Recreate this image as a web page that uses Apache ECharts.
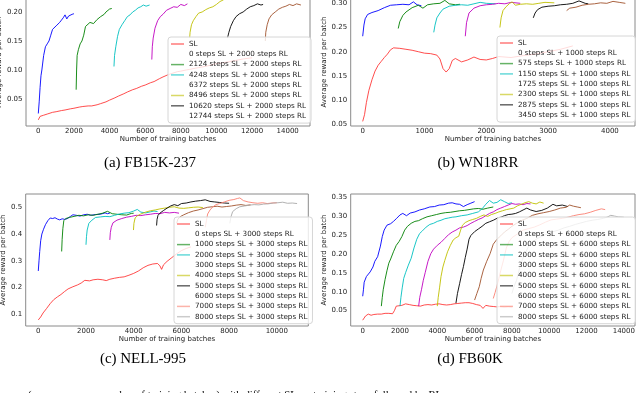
<!DOCTYPE html>
<html>
<head>
<meta charset="utf-8">
<script src="https://cdn.jsdelivr.net/npm/echarts@6/dist/echarts.min.js"></script>
<style>
html, body { margin: 0; padding: 0; background: #fff; }
#chart { width: 640px; height: 393px; }
</style>
</head>
<body>
<div id="chart"></div>
<script>
// colours used for the RL runs, in order of pretraining steps
const rlColors = ['#0000ff', '#008000', '#00bfbf', '#bf00bf', '#bfbf00', '#000000', '#a0522d', '#fa8072', '#a9a9a9']
const slColor = '#ff2020'

// ---------- (a) FB15K-237 ----------
const aSteps = [0, 2124, 4248, 6372, 8496, 10620, 12744]
const aSL = [[0,0.014],[100,0.020],[300,0.022],[500,0.024],[800,0.027],[1000,0.028],[1300,0.030],[1500,0.031],[1800,0.033],[2000,0.034],[2300,0.036],[2500,0.037],[2800,0.038],[3000,0.038],[3300,0.040],[3500,0.042],[3800,0.045],[4000,0.048],[4300,0.052],[4500,0.055],[4800,0.059],[5000,0.062],[5300,0.066],[5500,0.068],[5800,0.072],[6000,0.074],[6300,0.078],[6500,0.080],[6800,0.085],[7000,0.088],[7300,0.092],[7500,0.094],[7800,0.097],[8000,0.098],[8300,0.100],[8500,0.101],[8800,0.103],[9000,0.104],[9500,0.107],[10000,0.111],[10500,0.113],[11000,0.116],[11500,0.119],[12000,0.121]]
const aRL0 = [[0,0.025],[50,0.045],[100,0.070],[150,0.090],[200,0.100],[300,0.125],[400,0.140],[500,0.145],[600,0.150],[700,0.160],[800,0.170],[900,0.172],[1000,0.176],[1100,0.178],[1200,0.182],[1300,0.186],[1400,0.190],[1500,0.195],[1600,0.188],[1700,0.193],[1800,0.190],[1900,0.196],[2000,0.197]]
const aRL2124 = [[2124,0.066],[2150,0.100],[2180,0.125],[2250,0.135],[2350,0.145],[2450,0.150],[2550,0.160],[2650,0.175],[2750,0.178],[2900,0.182],[3100,0.180],[3300,0.187],[3500,0.192],[3700,0.196],[3800,0.200],[3900,0.199],[4000,0.205],[4124,0.206]]
const aRL4248 = [[4248,0.106],[4280,0.125],[4350,0.140],[4450,0.158],[4550,0.170],[4700,0.178],[4850,0.185],[5000,0.192],[5150,0.195],[5300,0.200],[5450,0.203],[5600,0.207],[5750,0.209],[5900,0.212],[6050,0.210],[6248,0.212]]
const aRL6372 = [[6372,0.118],[6400,0.140],[6450,0.155],[6550,0.172],[6700,0.185],[6850,0.192],[7000,0.196],[7200,0.203],[7400,0.206],[7600,0.209],[7800,0.208],[8000,0.213],[8200,0.211],[8372,0.214]]
const aRL8496 = [[8496,0.155],[8520,0.165],[8600,0.178],[8700,0.185],[8850,0.192],[9000,0.198],[9200,0.200],[9400,0.204],[9600,0.207],[9800,0.209],[10000,0.213],[10200,0.218],[10400,0.221]]
const aRL10620 = [[10620,0.155],[10700,0.165],[10800,0.175],[10950,0.185],[11100,0.192],[11300,0.197],[11500,0.200],[11700,0.205],[11900,0.209],[12100,0.211],[12300,0.214],[12500,0.212],[12620,0.213]]
const aRL12744 = [[12744,0.150],[12770,0.165],[12850,0.178],[12950,0.188],[13100,0.195],[13300,0.200],[13500,0.205],[13700,0.208],[13900,0.210],[14100,0.213],[14300,0.211],[14500,0.214],[14744,0.212]]
const aTicksX = [0, 2000, 4000, 6000, 8000, 10000, 12000, 14000]
const aTicksY = [0.05, 0.10, 0.15, 0.20]

// ---------- (b) WN18RR ----------
const bSteps = [0, 575, 1150, 1725, 2300, 2875, 3450]
const bSL = [[0,0.056],[30,0.070],[60,0.095],[100,0.120],[150,0.142],[200,0.160],[250,0.172],[300,0.180],[350,0.188],[400,0.195],[450,0.204],[500,0.208],[600,0.207],[700,0.205],[800,0.203],[900,0.200],[1000,0.197],[1100,0.196],[1200,0.193],[1250,0.185],[1300,0.165],[1350,0.158],[1400,0.165],[1450,0.182],[1500,0.186],[1600,0.179],[1700,0.183],[1800,0.189],[1900,0.184],[2000,0.183],[2100,0.186],[2200,0.190],[2400,0.188],[2600,0.192],[2800,0.195],[3000,0.200],[3200,0.205],[3400,0.212]]
const bRL0 = [[0,0.232],[20,0.255],[40,0.268],[80,0.277],[150,0.281],[250,0.285],[350,0.291],[450,0.296],[550,0.297],[650,0.298],[750,0.297],[820,0.303],[880,0.297],[950,0.295]]
const bRL575 = [[575,0.248],[600,0.262],[650,0.275],[700,0.282],[800,0.291],[900,0.296],[975,0.290],[1050,0.297],[1150,0.299],[1250,0.300],[1330,0.306],[1400,0.299],[1500,0.297],[1575,0.298]]
const bRL1150 = [[1150,0.240],[1170,0.255],[1200,0.270],[1250,0.280],[1300,0.288],[1400,0.294],[1500,0.296],[1600,0.297],[1700,0.296],[1800,0.299],[1900,0.302],[2000,0.300],[2150,0.299]]
const bRL1725 = [[1660,0.232],[1680,0.260],[1720,0.280],[1800,0.290],[1900,0.295],[2000,0.297],[2100,0.298],[2200,0.300],[2300,0.299],[2400,0.302],[2550,0.300]]
const bRL2300 = [[2220,0.250],[2240,0.270],[2270,0.285],[2320,0.293],[2380,0.300],[2420,0.303],[2470,0.296],[2550,0.298],[2650,0.299],[2750,0.298],[2850,0.300],[2950,0.302],[3100,0.301]]
const bRL2875 = [[2760,0.270],[2790,0.280],[2830,0.287],[2900,0.292],[3000,0.294],[3100,0.295],[3200,0.297],[3300,0.298],[3400,0.300],[3500,0.305],[3600,0.300],[3650,0.299]]
const bRL3450 = [[3300,0.285],[3350,0.290],[3450,0.292],[3550,0.296],[3650,0.298],[3750,0.299],[3850,0.301],[3950,0.300],[4050,0.304],[4150,0.302],[4250,0.300]]
const bTicksX = [0, 1000, 2000, 3000, 4000]
const bTicksY = [0.05, 0.10, 0.15, 0.20, 0.25, 0.30]

// ---------- (c) NELL-995 ----------
const cSteps = [0, 1000, 2000, 3000, 4000, 5000, 6000, 7000, 8000]
const cSL = [[0,0.079],[100,0.090],[200,0.105],[350,0.122],[500,0.140],[650,0.155],[800,0.165],[950,0.174],[1100,0.185],[1250,0.195],[1450,0.203],[1650,0.210],[1800,0.217],[1950,0.227],[2150,0.225],[2300,0.229],[2500,0.231],[2700,0.229],[2850,0.226],[3000,0.231],[3200,0.235],[3400,0.238],[3600,0.240],[3800,0.246],[4000,0.253],[4200,0.262],[4400,0.274],[4600,0.283],[4800,0.288],[5000,0.290],[5100,0.281],[5170,0.268],[5250,0.285],[5400,0.298],[5600,0.312],[5800,0.326],[6000,0.338],[6200,0.346],[6400,0.352]]
const cRL0 = [[0,0.262],[30,0.300],[60,0.335],[100,0.375],[150,0.400],[220,0.418],[300,0.435],[400,0.450],[500,0.460],[600,0.458],[700,0.461],[800,0.456],[900,0.453],[1000,0.457],[1100,0.455],[1200,0.457],[1350,0.466],[1450,0.472],[1600,0.470],[1750,0.467],[1900,0.472],[2050,0.474],[2200,0.470],[2400,0.473],[2600,0.474],[2800,0.479],[2900,0.476],[3000,0.478]]
const cRL1000 = [[980,0.335],[1000,0.380],[1030,0.420],[1070,0.450],[1150,0.458],[1300,0.462],[1500,0.466],[1700,0.470],[1900,0.468],[2100,0.472],[2300,0.470],[2500,0.474],[2700,0.478],[2900,0.485],[3100,0.476],[3300,0.474],[3500,0.472],[3700,0.471],[3900,0.477],[4000,0.478]]
const cRL2000 = [[2000,0.360],[2020,0.390],[2050,0.415],[2120,0.440],[2250,0.452],[2400,0.462],[2600,0.464],[2800,0.466],[3000,0.465],[3200,0.470],[3400,0.475],[3600,0.478],[3800,0.480],[4000,0.486],[4150,0.492],[4300,0.482],[4500,0.479],[4700,0.483],[4850,0.486],[5000,0.484]]
const cRL3000 = [[3000,0.378],[3020,0.405],[3060,0.425],[3130,0.442],[3300,0.452],[3500,0.458],[3700,0.463],[3900,0.466],[4100,0.470],[4300,0.469],[4500,0.472],[4700,0.474],[4900,0.477],[5100,0.476],[5300,0.481],[5500,0.479],[5700,0.481],[5900,0.478]]
const cRL4000 = [[3990,0.415],[4010,0.440],[4060,0.460],[4150,0.468],[4300,0.475],[4500,0.482],[4700,0.487],[4900,0.490],[5100,0.494],[5300,0.497],[5500,0.500],[5700,0.502],[5900,0.497],[6100,0.496],[6300,0.498],[6500,0.500],[6700,0.501],[6900,0.499]]
const cRL5000 = [[4960,0.432],[4980,0.455],[5020,0.470],[5100,0.478],[5250,0.488],[5400,0.497],[5550,0.505],[5700,0.510],[5850,0.506],[6000,0.514],[6200,0.516],[6400,0.520],[6600,0.523],[6800,0.525],[7000,0.528],[7200,0.522],[7400,0.520],[7600,0.518],[7800,0.516],[8000,0.515]]
const cRL6000 = [[5800,0.440],[5850,0.455],[5950,0.465],[6100,0.472],[6300,0.480],[6500,0.486],[6700,0.490],[6900,0.495],[7100,0.500],[7300,0.502],[7500,0.504],[7700,0.501],[7900,0.503],[8100,0.505],[8300,0.508],[8500,0.510],[8700,0.507],[8900,0.509]]
const cRL7000 = [[7000,0.425],[7050,0.450],[7100,0.475],[7200,0.490],[7300,0.500],[7450,0.510],[7600,0.514],[7800,0.520],[8000,0.526],[8200,0.529],[8350,0.533],[8450,0.535],[8600,0.525],[8800,0.520],[9000,0.517],[9200,0.515],[9400,0.517],[9600,0.514],[9800,0.516],[10000,0.517]]
const cRL8000 = [[8030,0.440],[8080,0.465],[8150,0.484],[8300,0.495],[8450,0.502],[8650,0.505],[8850,0.508],[9050,0.510],[9250,0.509],[9450,0.512],[9650,0.513],[9850,0.516],[10050,0.517],[10250,0.519],[10450,0.515],[10650,0.516],[10850,0.514]]
const cTicksX = [0, 2000, 4000, 6000, 8000, 10000]
const cTicksY = [0.1, 0.2, 0.3, 0.4, 0.5]

// ---------- (d) FB60K ----------
const dSteps = [0, 1000, 2000, 3000, 4000, 5000, 6000, 7000, 8000]
const dSL = [[0,0.025],[60,0.030],[150,0.036],[300,0.041],[450,0.038],[600,0.040],[800,0.041],[1000,0.041],[1200,0.043],[1400,0.043],[1600,0.042],[1700,0.050],[1800,0.062],[1900,0.066],[2100,0.064],[2300,0.068],[2500,0.066],[2700,0.064],[2900,0.063],[3100,0.062],[3300,0.065],[3500,0.066],[3700,0.065],[3900,0.067],[4100,0.068],[4300,0.066],[4500,0.065],[4700,0.066],[4900,0.068],[5100,0.069],[5300,0.070],[5500,0.071],[5700,0.071],[5900,0.069],[6100,0.066],[6300,0.064],[6450,0.056],[6600,0.064],[6800,0.062],[7000,0.061],[7200,0.060],[7400,0.061],[7600,0.060],[7800,0.061],[8000,0.060]]
const dRL0 = [[0,0.088],[40,0.105],[80,0.125],[200,0.140],[400,0.152],[550,0.165],[650,0.180],[800,0.192],[950,0.220],[1050,0.245],[1150,0.262],[1300,0.275],[1500,0.279],[1650,0.285],[1800,0.292],[2000,0.302],[2150,0.306],[2350,0.300],[2550,0.307],[2800,0.310],[3050,0.315],[3300,0.318],[3600,0.323],[3850,0.324],[4100,0.328],[4350,0.329],[4600,0.333],[4800,0.334],[5000,0.331],[5200,0.330],[5400,0.324],[5600,0.329],[5800,0.333],[6000,0.337]]
const dRL1000 = [[1000,0.062],[1050,0.085],[1100,0.105],[1200,0.132],[1300,0.155],[1400,0.175],[1500,0.186],[1650,0.205],[1800,0.222],[1950,0.232],[2100,0.245],[2250,0.262],[2400,0.272],[2600,0.280],[2800,0.285],[3000,0.287],[3200,0.292],[3450,0.297],[3700,0.300],[3950,0.303],[4200,0.306],[4450,0.308],[4700,0.309],[4950,0.311],[5200,0.313],[5450,0.314],[5700,0.316],[5950,0.318],[6200,0.319],[6450,0.317],[6700,0.320],[7000,0.323]]
const dRL2000 = [[2000,0.062],[2050,0.085],[2120,0.110],[2200,0.135],[2300,0.150],[2450,0.170],[2600,0.188],[2750,0.215],[2900,0.238],[3050,0.253],[3200,0.260],[3400,0.270],[3600,0.277],[3800,0.280],[4000,0.285],[4200,0.288],[4400,0.292],[4600,0.294],[4800,0.296],[5000,0.297],[5300,0.300],[5600,0.302],[5900,0.306],[6200,0.310],[6400,0.318],[6600,0.330],[6800,0.340],[7000,0.333],[7200,0.335],[7400,0.342],[7600,0.337],[7800,0.332],[8000,0.334]]
const dRL3000 = [[3000,0.062],[3060,0.085],[3150,0.105],[3250,0.130],[3350,0.150],[3500,0.180],[3650,0.200],[3800,0.212],[4000,0.222],[4200,0.230],[4400,0.240],[4600,0.250],[4800,0.257],[5000,0.262],[5200,0.268],[5400,0.270],[5600,0.274],[5800,0.280],[6000,0.285],[6200,0.290],[6400,0.294],[6600,0.300],[6800,0.306],[7000,0.310],[7200,0.316],[7400,0.320],[7600,0.324],[7800,0.328],[8000,0.332],[8200,0.330],[8400,0.331],[8600,0.329],[8800,0.332],[9000,0.331]]
const dRL4000 = [[4000,0.062],[4050,0.085],[4120,0.110],[4200,0.140],[4300,0.165],[4400,0.182],[4550,0.205],[4700,0.222],[4850,0.236],[5000,0.242],[5150,0.246],[5250,0.262],[5350,0.275],[5500,0.282],[5700,0.287],[5900,0.290],[6100,0.293],[6300,0.298],[6500,0.302],[6700,0.298],[6900,0.303],[7100,0.306],[7300,0.310],[7500,0.313],[7700,0.316],[7900,0.318],[8100,0.320],[8300,0.326],[8500,0.330],[8700,0.334],[8900,0.337],[9100,0.333],[9300,0.331],[9500,0.336],[9700,0.333]]
const dRL5000 = [[5000,0.070],[5080,0.095],[5200,0.122],[5300,0.145],[5400,0.166],[5500,0.190],[5600,0.212],[5700,0.238],[5800,0.248],[6000,0.258],[6200,0.265],[6400,0.272],[6600,0.280],[6800,0.284],[7000,0.288],[7200,0.293],[7400,0.296],[7600,0.300],[7800,0.303],[8000,0.304],[8200,0.306],[8400,0.310],[8600,0.315],[8800,0.320],[9000,0.315],[9300,0.311],[9600,0.314],[9900,0.320],[10200,0.330],[10400,0.326],[10700,0.328],[11000,0.324]]
const dRL6000 = [[6000,0.078],[6120,0.095],[6250,0.113],[6350,0.135],[6470,0.157],[6650,0.180],[6830,0.200],[7000,0.225],[7200,0.238],[7400,0.247],[7600,0.257],[7800,0.264],[8000,0.272],[8250,0.280],[8500,0.287],[8800,0.293],[9100,0.301],[9400,0.305],[9700,0.308],[10000,0.311],[10300,0.315],[10600,0.320],[10900,0.322],[11100,0.328],[11300,0.325],[11500,0.323],[11700,0.321]]
const dRL7000 = [[7000,0.082],[7100,0.098],[7200,0.115],[7300,0.135],[7400,0.155],[7550,0.183],[7700,0.215],[7850,0.232],[8000,0.242],[8300,0.252],[8600,0.262],[8900,0.266],[9200,0.270],[9500,0.276],[9800,0.283],[10100,0.289],[10400,0.291],[10700,0.293],[11000,0.296],[11300,0.300],[11600,0.303],[11900,0.305],[12200,0.309],[12500,0.314],[12800,0.318],[13000,0.316]]
const dRL8000 = [[8000,0.095],[8100,0.112],[8250,0.130],[8400,0.160],[8550,0.183],[8700,0.200],[8850,0.215],[9000,0.227],[9300,0.238],[9600,0.246],[9900,0.252],[10200,0.258],[10500,0.262],[10800,0.268],[11100,0.272],[11400,0.277],[11700,0.281],[12000,0.285],[12300,0.288],[12600,0.290],[12900,0.293],[13100,0.296],[13300,0.301],[13500,0.299],[13700,0.297],[14000,0.296]]
const dTicksX = [0, 2000, 4000, 6000, 8000, 10000, 12000, 14000]
const dTicksY = [0.05, 0.10, 0.15, 0.20, 0.25, 0.30, 0.35]

const panels = [
  { sl: aSL, rl: [aRL0, aRL2124, aRL4248, aRL6372, aRL8496, aRL10620, aRL12744], steps: aSteps, rlSteps: 2000,
    grid: { left: 26, right: 330, top: -2, bottom: 267 }, x: [-691, 15253], y: [0.0034, 0.2241],
    tx: aTicksX, ty: aTicksY, yDec: 2, yGap: 13.5, legend: { left: 168, top: 37 }, caption: ['(a) FB15K-237', 150, 163] },
  { sl: bSL, rl: [bRL0, bRL575, bRL1150, bRL1725, bRL2300, bRL2875, bRL3450], steps: bSteps, rlSteps: 1000,
    grid: { left: 350.7, right: 5, top: -2, bottom: 267 }, x: [-194, 4406], y: [0.0465, 0.311],
    tx: bTicksX, ty: bTicksY, yDec: 2, yGap: 18.7, legend: { left: 497, top: 36 }, caption: ['(b) WN18RR', 478, 163] },
  { sl: cSL, rl: [cRL0, cRL1000, cRL2000, cRL3000, cRL4000, cRL5000, cRL6000, cRL7000, cRL8000], steps: cSteps, rlSteps: 3000,
    grid: { left: 25.7, right: 331.7, top: 194, bottom: 67 }, x: [-528, 11321], y: [0.0563, 0.5497],
    tx: cTicksX, ty: cTicksY, yDec: 1, yGap: 14.7, legend: { left: 174, top: 217 }, caption: ['(c) NELL-995', 143, 359] },
  { sl: dSL, rl: [dRL0, dRL1000, dRL2000, dRL3000, dRL4000, dRL5000, dRL6000, dRL7000, dRL8000], steps: dSteps, rlSteps: 6000,
    grid: { left: 350.7, right: 5, top: 194, bottom: 67 }, x: [-643, 14600], y: [0.0097, 0.3571],
    tx: dTicksX, ty: dTicksY, yDec: 2, yGap: 19.2, legend: { left: 497, top: 217 }, caption: ['(d) FB60K', 470, 359] }
]

// runs whose legend handle does not show in the figure
const hiddenHandles = [0, 3, 6]

const font = 'DejaVu Sans'
const textColor = '#222'
const grids = []
const xAxes = []
const yAxes = []
const series = []
const legends = []
const graphics = []

panels.forEach((p, k) => {
  grids.push(Object.assign({ show: true, borderColor: '#8a8a8a', borderWidth: 1, containLabel: false, outerBoundsMode: 'none' }, p.grid))
  xAxes.push({
    type: 'value', gridIndex: k, min: p.x[0], max: p.x[1],
    name: 'Number of training batches', nameLocation: 'middle', nameGap: 8,
    nameTextStyle: { fontFamily: font, fontSize: 7, color: textColor },
    axisLine: { show: false }, axisTick: { show: false }, splitLine: { show: false },
    axisLabel: { customValues: p.tx, fontFamily: font, fontSize: 7, color: textColor, margin: 2, formatter: v => String(v) }
  })
  yAxes.push({
    type: 'value', gridIndex: k, min: p.y[0], max: p.y[1],
    name: 'Average reward per batch', nameLocation: 'middle', nameGap: p.yGap,
    nameTextStyle: { fontFamily: font, fontSize: 7, color: textColor },
    axisLine: { show: false }, axisTick: { show: false }, splitLine: { show: false },
    axisLabel: { customValues: p.ty, fontFamily: font, fontSize: 7, color: textColor, margin: 3.5, formatter: v => v.toFixed(p.yDec) }
  })

  const names = ['SL']
  series.push({
    type: 'line', name: 'SL', xAxisIndex: k, yAxisIndex: k, data: p.sl, symbol: 'none',
    lineStyle: { color: slColor, width: 0.8 }, itemStyle: { color: slColor }, z: 2
  })
  p.rl.forEach((d, i) => {
    const name = p.steps[i] + ' steps SL + ' + p.rlSteps + ' steps RL'
    names.push(name)
    series.push({
      type: 'line', name: name, xAxisIndex: k, yAxisIndex: k, data: d, symbol: 'none',
      lineStyle: { color: rlColors[i], width: 0.9 }, itemStyle: { color: rlColors[i] }, z: 3
    })
  })

  legends.push({
    orient: 'vertical', left: p.legend.left, top: p.legend.top,
    icon: 'rect', itemWidth: 13, itemHeight: 1.5, itemGap: 2.3,
    padding: [3, 5, 3, 3], backgroundColor: 'rgba(255,255,255,0.8)',
    borderColor: '#d6d6d6', borderWidth: 1, borderRadius: 3, selectedMode: false,
    textStyle: { fontFamily: font, fontSize: 7.2, color: textColor, lineHeight: 8 },
    data: names.map((n, i) => ({ name: n, itemStyle: { opacity: (i > 0 && hiddenHandles.includes(i - 1)) ? 0 : 0.6 } }))
  })

  graphics.push({
    type: 'text', silent: true,
    style: { text: p.caption[0], x: p.caption[1], y: p.caption[2], fill: '#000',
      font: '15px "Liberation Serif"', align: 'center', verticalAlign: 'middle' }
  })
})

// caption line cut off at the bottom of the image
graphics.push({
  type: 'text', silent: true,
  style: { text: '(curves versus a number of training batches) with different SL pretraining steps followed by RL',
    x: 28, y: 389.5, fill: '#000', font: '10.8px "Liberation Serif"', align: 'left', verticalAlign: 'top' }
})

const myChart = echarts.init(document.getElementById('chart'), null, { renderer: 'canvas' })
const option = {
  animation: false,
  backgroundColor: '#fff',
  grid: grids,
  xAxis: xAxes,
  yAxis: yAxes,
  legend: legends,
  series: series,
  graphic: graphics
}
option && myChart.setOption(option)
</script>
</body>
</html>
